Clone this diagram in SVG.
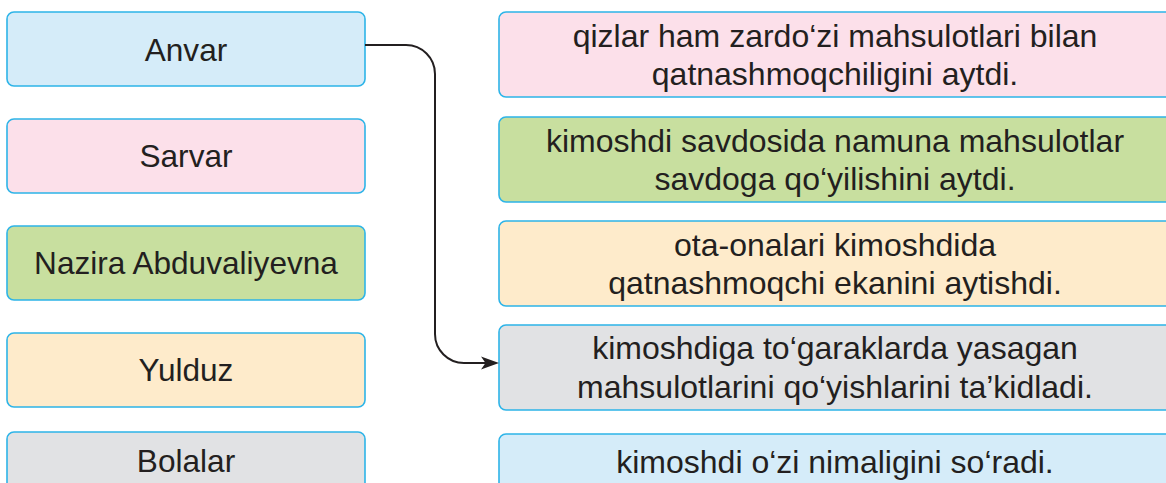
<svg xmlns="http://www.w3.org/2000/svg" width="1166" height="483" viewBox="0 0 1166 483">
<style>
.box{stroke:#2db4e8;stroke-width:1.6}
.blue{fill:#d5ecf9}.pink{fill:#fce0ea}.green{fill:#c8df9f}.orange{fill:#feebcb}.gray{fill:#e1e2e4}
.t{font-family:"Liberation Sans",Arial,sans-serif;fill:#231f20;text-anchor:middle}
.l{font-size:31.6px}.r{font-size:32px}
.conn{fill:none;stroke:#231f20;stroke-width:2}
</style>
<rect width="1166" height="483" fill="#ffffff"/>
<g id="left-anvar"><rect class="box blue" x="7" y="12" width="358" height="74" rx="7"/><text class="t l" x="186" y="61">Anvar</text></g>
<g id="left-sarvar"><rect class="box pink" x="7" y="119" width="358" height="74" rx="7"/><text class="t l" x="186" y="167">Sarvar</text></g>
<g id="left-nazira"><rect class="box green" x="7" y="226" width="358" height="74" rx="7"/><text class="t l" x="186" y="274">Nazira Abduvaliyevna</text></g>
<g id="left-yulduz"><rect class="box orange" x="7" y="333" width="358" height="74" rx="7"/><text class="t l" x="186" y="381">Yulduz</text></g>
<g id="left-bolalar"><rect class="box gray" x="7" y="432" width="358" height="74" rx="7"/><text class="t l" x="186" y="472">Bolalar</text></g>

<g id="right-1"><rect class="box pink" x="499" y="12" width="690" height="85" rx="7"/><text class="t r" x="835" y="47">qizlar ham zardo‘zi mahsulotlari bilan</text><text class="t r" x="835" y="84.5">qatnashmoqchiligini aytdi.</text></g>
<g id="right-2"><rect class="box green" x="499" y="117" width="690" height="85" rx="7"/><text class="t r" x="835" y="152">kimoshdi savdosida namuna mahsulotlar</text><text class="t r" x="835" y="189.5">savdoga qo‘yilishini aytdi.</text></g>
<g id="right-3"><rect class="box orange" x="499" y="221" width="690" height="85" rx="7"/><text class="t r" x="835" y="256">ota-onalari kimoshdida</text><text class="t r" x="835" y="293.5">qatnashmoqchi ekanini aytishdi.</text></g>
<g id="right-4"><rect class="box gray" x="499" y="325" width="690" height="85" rx="7"/><text class="t r" x="835" y="359">kimoshdiga to‘garaklarda yasagan</text><text class="t r" x="835" y="397.5">mahsulotlarini qo‘yishlarini ta’kidladi.</text></g>
<g id="right-5"><rect class="box blue" x="499" y="434" width="690" height="85" rx="7"/><text class="t r" x="835" y="473">kimoshdi o‘zi nimaligini so‘radi.</text></g>

<g id="connectors">
<path class="conn" d="M365,45 H406 A29,29 0 0 1 435,74 V334 A29,29 0 0 0 464,363 H486"/>
<polygon points="499,363 481,356.5 485.5,363 481,369.5" fill="#231f20"/>
</g>
</svg>
